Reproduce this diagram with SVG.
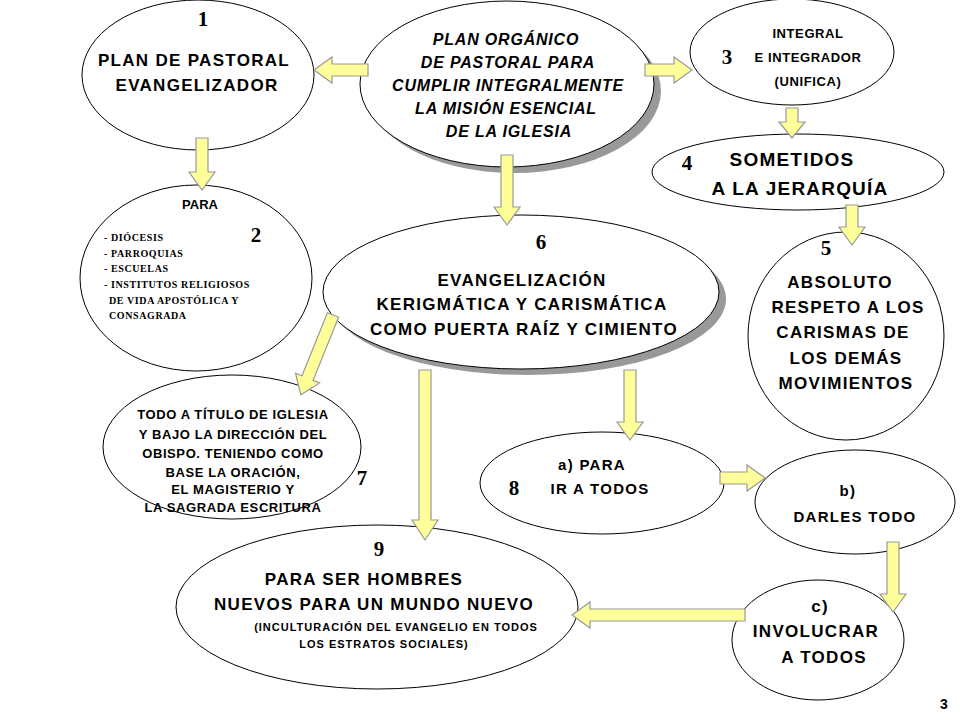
<svg xmlns="http://www.w3.org/2000/svg" width="960" height="720" viewBox="0 0 960 720">
<style>
.e{fill:#fff;stroke:#000;stroke-width:1}
.sh{fill:#999}
.a{fill:#ffff99;stroke:#999;stroke-width:1.2}
text{font-family:"Liberation Sans",Arial,sans-serif;font-weight:bold;text-anchor:middle;fill:#000}
.n{font-family:"Liberation Serif","Times New Roman",serif;font-size:21px;letter-spacing:0}
.s{font-family:"Liberation Serif","Times New Roman",serif;font-size:10px;text-anchor:start;letter-spacing:0.6px}
.i{font-style:italic;font-size:16px;letter-spacing:0.8px}
.m{font-size:17px;letter-spacing:1.3px}
.l{font-size:19px;letter-spacing:1.2px}
.t{font-size:13px;letter-spacing:0.6px}
.u{font-size:15px;letter-spacing:1.3px}
</style>
<rect width="960" height="720" fill="#fff"/>
<g id="n1"><ellipse class="e" cx="198" cy="75" rx="116" ry="75"/>
<text class="n" x="203" y="26">1</text>
<text class="m" x="194" y="66">PLAN DE PASTORAL</text><text class="m" x="197" y="91">EVANGELIZADOR</text></g>
<g id="n0"><ellipse class="sh" cx="514" cy="91" rx="147" ry="82"/><ellipse class="e" cx="507" cy="84" rx="147" ry="83"/>
<text class="i" x="506" y="45">PLAN ORGÁNICO</text><text class="i" x="508" y="68">DE PASTORAL PARA</text><text class="i" x="508" y="91">CUMPLIR INTEGRALMENTE</text><text class="i" x="506" y="114">LA MISIÓN ESENCIAL</text><text class="i" x="509" y="137">DE LA IGLESIA</text></g>
<g id="n3"><ellipse class="e" cx="792" cy="52" rx="102" ry="53"/>
<text class="t" x="808" y="38">INTEGRAL</text><text class="t" x="808" y="62">E INTEGRADOR</text><text class="t" x="808" y="86">(UNIFICA)</text>
<text class="n" x="727" y="64">3</text></g>
<g id="n4"><ellipse class="e" cx="798" cy="172" rx="146" ry="38"/>
<text class="n" x="687" y="170">4</text><text class="l" x="792" y="166">SOMETIDOS</text><text class="l" x="800" y="195">A LA JERARQUÍA</text></g>
<g id="n2"><ellipse class="e" cx="196" cy="278" rx="116" ry="93"/>
<text x="200" y="209" font-family="Liberation Serif,serif" font-size="13">PARA</text>
<text class="n" x="256" y="242">2</text>
<text class="s" x="104" y="241">- DIÓCESIS</text><text class="s" x="104" y="257">- PARROQUIAS</text><text class="s" x="104" y="272">- ESCUELAS</text><text class="s" x="104" y="288">- INSTITUTOS  RELIGIOSOS</text><text class="s" x="109" y="304">DE VIDA  APOSTÓLICA  Y</text><text class="s" x="109" y="319">CONSAGRADA</text></g>
<g id="n6"><ellipse class="sh" cx="528" cy="299" rx="198" ry="76"/><ellipse class="e" cx="521" cy="292" rx="198" ry="77"/>
<text class="n" x="541" y="249">6</text>
<text class="m" x="522" y="286">EVANGELIZACIÓN</text><text class="m" x="522" y="310">KERIGMÁTICA Y CARISMÁTICA</text><text class="m" x="524" y="335">COMO PUERTA RAÍZ Y CIMIENTO</text></g>
<g id="n5"><ellipse class="e" cx="846" cy="336" rx="98" ry="104"/>
<text class="n" x="826" y="255">5</text>
<text class="m" x="840" y="288">ABSOLUTO</text><text class="m" x="848" y="313">RESPETO A LOS</text><text class="m" x="843" y="338">CARISMAS DE</text><text class="m" x="846" y="364">LOS DEMÁS</text><text class="m" x="846" y="389">MOVIMIENTOS</text></g>
<g id="n7"><ellipse class="e" cx="232" cy="447" rx="129" ry="72"/>
<text class="t" x="233" y="419">TODO A TÍTULO DE IGLESIA</text><text class="t" x="233" y="439">Y BAJO LA DIRECCIÓN DEL</text><text class="t" x="233" y="458">OBISPO. TENIENDO COMO</text><text class="t" x="233" y="477">BASE LA ORACIÓN,</text><text class="t" x="233" y="494">EL MAGISTERIO Y</text><text class="t" x="233" y="512">LA SAGRADA ESCRITURA</text>
<text class="n" x="362" y="485">7</text></g>
<g id="n8"><ellipse class="e" cx="602" cy="483" rx="122" ry="51"/>
<text class="u" x="592" y="470">a)  PARA</text><text class="u" x="600" y="494">IR A TODOS</text><text class="n" x="514" y="495">8</text></g>
<g id="nb"><ellipse class="e" cx="855" cy="502" rx="100" ry="52"/>
<text class="u" x="848" y="496">b)</text><text class="u" x="855" y="522">DARLES TODO</text></g>
<g id="n9"><ellipse class="e" cx="377" cy="607" rx="201" ry="82"/>
<text class="n" x="379" y="556">9</text>
<text class="m" x="364" y="585">PARA SER HOMBRES</text><text class="m" x="374" y="610">NUEVOS PARA UN MUNDO NUEVO</text>
<text x="396" y="631" font-size="11" letter-spacing="1">(INCULTURACIÓN  DEL  EVANGELIO EN TODOS</text><text x="384" y="648" font-size="11" letter-spacing="1">LOS ESTRATOS SOCIALES)</text></g>
<g id="nc"><ellipse class="e" cx="818" cy="640" rx="86" ry="60"/>
<text class="m" x="820" y="612">c)</text><text class="m" x="816" y="637">INVOLUCRAR</text><text class="m" x="824" y="663">A TODOS</text></g>
<text x="944" y="709" font-size="14">3</text>
<g id="connectors">
<path class="a" d="M196,138 H208 V172 H215 L202,190 L189,172 H196Z"/>
<path class="a" d="M501,155 H513 V207 H520 L507,225 L494,207 H501Z"/>
<path class="a" d="M786,108 H798 V122 H805 L792,138 L779,122 H786Z"/>
<path class="a" d="M846,205 H858 V227 H865 L852,245 L839,227 H846Z"/>
<path class="a" d="M419,370 H431 V520 H438 L425,540 L412,520 H419Z"/>
<path class="a" d="M624,370 H636 V422 H643 L630,440 L617,422 H624Z"/>
<path class="a" d="M887,542 H899 V594 H906 L893,612 L880,594 H887Z"/>
<path class="a" d="M368,64 V76 H332 V83 L314,70 L332,57 V64Z"/>
<path class="a" d="M745,609 V621 H590 V628 L572,615 L590,602 V609Z"/>
<path class="a" d="M645,64 V76 H674 V83 L692,70 L674,57 V64Z"/>
<path class="a" d="M720,472 V484 H747 V491 L765,478 L747,465 V472Z"/>
<path class="a" transform="translate(333,315) rotate(22)" d="M-6,0 H6 V68 H13 L0,86 L-13,68 H-6Z"/>
</g>
</svg>
